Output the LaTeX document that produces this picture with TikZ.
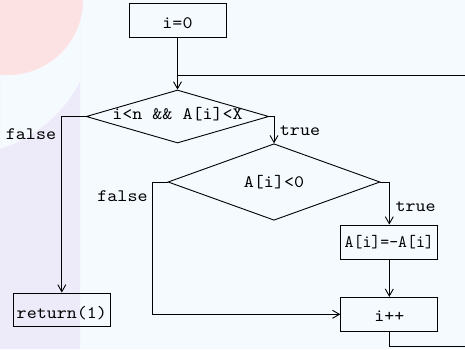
\documentclass[tikz,border=0pt]{standalone}
\usepackage{fontspec}
\usepackage{graphicx}
\newfontfamily\monofam{lmmono10-regular.otf}[FakeStretch=1.09]
\usetikzlibrary{shapes.geometric,arrows.meta}
\definecolor{bgc}{RGB}{245,250,255}
\definecolor{pinkc}{RGB}{253,226,228}
\definecolor{lavc}{RGB}{237,234,249}
\begin{document}
\begin{tikzpicture}[x=1pt,y=-1pt,
  font=\monofam\fontsize{17.5}{19}\selectfont,
  line width=0.9pt,
  >={Straight Barb[length=7pt,width=8pt]},
  box/.style={draw, rectangle, minimum width=97pt, minimum height=34pt, inner sep=0pt, text depth=0pt},
  dia/.style={draw, diamond, inner sep=0pt, text depth=0pt},
  lbl/.style={anchor=base, inner sep=0pt}]
\useasboundingbox (0,0) rectangle (465,349);
\clip (0,0) rectangle (465,349);
\fill[bgc] (0,0) rectangle (465,349);
\fill[pinkc] (8,0) circle[radius=75];
\begin{scope}
  \clip (0,0) rectangle (80,349);
  \fill[lavc, even odd rule] (0,0) rectangle (80,349) (-40,20) circle[radius=135];
\end{scope}

\node[box, text height=16pt] (i0) at (177.5,20.3) {i=0};
\node[dia, aspect=3.45, minimum width=182.6pt, minimum height=53pt, text height=6pt] (d1) at (177.5,116.5) {i<n \&\& A[i]<X};
\node[dia, aspect=2.77, minimum width=212pt, minimum height=76.5pt, text height=10.6pt] (d2) at (274,182) {A[i]<0};
\node[box, minimum height=33pt, text height=17.4pt] (ret) at (61.8,309.5) {return(1)};
\node[box, text height=10.6pt] (neg) at (389.3,242) {\scalebox{0.89}[1]{A[i]=-A[i]}};
\node[box, text height=13.4pt] (ipp) at (389.3,314.3) {i++};

\node[lbl] (lf1) at (31,139) {false};
\node[lbl] (lt1) at (300,135) {true};
\node[lbl] (lf2) at (122.5,201.7) {false};
\node[lbl] (lt2) at (415.7,211.7) {true};

\coordinate (join) at (177.5,75);
\coordinate (loopbr) at (470,346);
\coordinate (looptr) at (470,75);
\coordinate (f2) at (152.7,182);

\draw[->] (i0.south) -- (d1.north);
\draw (ipp.south) |- (loopbr) -- (looptr) -- (join);
\draw[->] (d1.west) -| (ret.north);
\draw[->] (d1.east) -| (d2.north);
\draw[->] (d2.west) -- (f2) |- (ipp.west);
\draw[->] (d2.east) -| (neg.north);
\draw[->] (neg.south) -- (ipp.north);
\end{tikzpicture}
\end{document}
